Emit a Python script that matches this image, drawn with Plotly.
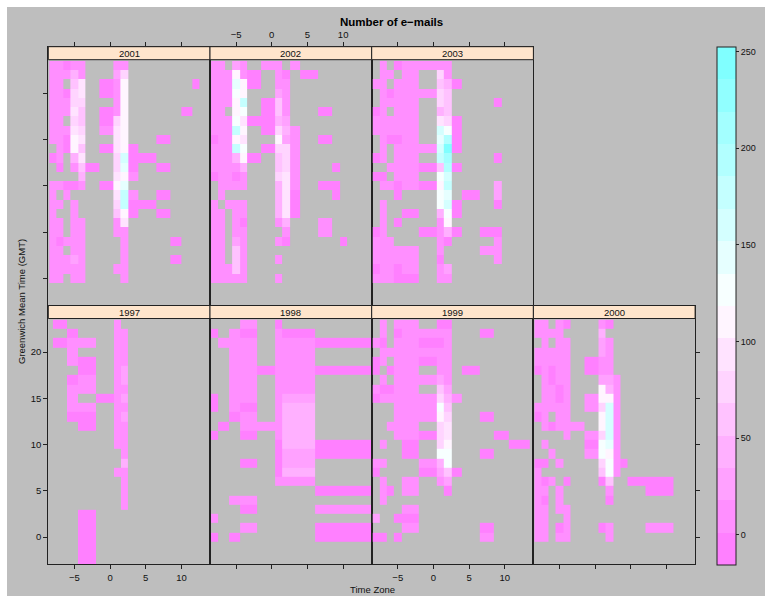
import colorsys
import math
import plotly.graph_objects as go

# ---------------- data ----------------
YEARS = ["1997", "1998", "1999", "2000", "2001", "2002", "2003"]

# band code -> estimated number of e-mails ('.' = no e-mail)
LEVEL_COUNT = {"1": 1, "2": 8, "3": 25, "4": 42, "5": 60, "6": 76, "7": 93,
               "8": 110, "9": 127, "a": 143, "b": 160, "c": 177, "d": 194,
               "e": 210, "f": 227, "g": 237}

HOURS_FULL = list(range(23, -1, -1))

X_1997 = [-7, -5, -4, 0, 1, 2]
Y_1997 = list(range(23, 5, -1)) + [0]
Z_1997 = ["1...2.", ".1..22", "122.22", ".2..22", ".21.22", "..1.23",
          ".12.23", ".22.22", ".2.123", ".22.22", ".11.23", "..1.22",
          "....22", "....22", ".....2", ".....4", "....22", ".....2",
          "..1..."]

X_1998 = [-8, -7, -5, -4, 0, 1, 2, 10]
Z_1998 = ["...2.1..", "1.21.21.", ".222.221", "..22.22.", "..22.22.",
          "..221221", "..22.22.", "..22.22.", "1.22.23.", "1.21.24.",
          "..12.24.", ".1.2224.", "1..1.24.", ".....141", ".....131",
          "...1.13.", ".....14.", ".....22.", ".......1", "..22....",
          "...1...2", "2.......", "...2...1", "1.1....1"]

X_1999 = [-8, -7, -6, -5, -4, 0, 1, 2, 3, 5, 8, 9, 12]
Z_1999 = [".2.22.11.....", ".2.12222..1..", "21.22112.....", ".2222222.....",
          "12.22122.....", "1.122.22.1...", ".2.22232.....", "21122.53.....",
          "122222642....", "...22295.....", "...22286..1..", "..222.67.....",
          "...22167...1.", ".2..1.68....1", "....1.99..1..", "22...249.....",
          "1....1351....", ".2..2.23.....", ".21.2..1.....", ".2...........",
          "....2........", "3..11........", "....2.....1..", "11.1......2.."]

X_2000 = [-8, -7, -6, -5, -4, -3, 0, 1, 2, 3, 4, 5, 9]
Z_2000 = ["22.21..21....", "2222...4.....", ".2.22..32....", "22222..32....",
          "22222.122....", "12122.122....", ".2122..332...", ".2212..842...",
          ".2212.2882...", "22222.26b2...", "12.22..8b2...", ".21222.8b2...",
          "....2.26b2...", ".2....19a2...", "..2...2982...", "11.2...6921..",
          "2......592...", "212.1..15..11", "22.2....2...1", "21.2....1....",
          "22.22........", "22..2........", "22.12..12...2", "22.22...2...."]

X_2001 = [-8, -7, -6, -5, -4, -3, 0, 1, 2, 3, 5, 8, 9, 11, 12]
Z_2001 = ["22122..22......", "22242..36......", "22.57.128.....1", "22167.128......",
          "22266..28......", "22275.128....1.", "22.65.168......", "22276.278......",
          "22187..78..1...", ".2185.1781.....", "12.47..6b11....", ".1.251.6a1.1...",
          "....4..782.....", "22112.18a......", "2.2....7c2.1...", "22.2...6c11....",
          "2..2...581.1...", "22.22..27......", "22.22..22......", "21222...2...1..",
          "22.22...2......", "22232...2...1..", "22222..22......", "22.22...2......"]

X_2002 = [-8, -7, -6, -5, -4, -3, 0, 1, 2, 3, 5, 8, 9, 10]
Z_2002 = ["22.32.22.2....", "222821.21.1...", "222a81.22.....", "22298..32.....",
          "2228c.152.....", "22.89.152..1..", "222971143.....", "222c8.1642....",
          "12287..832.1..", "222c9.1662....", "222481.562....", "22224..562..1.",
          "12212..672....", ".2222..472.11.", ".2.....471..1.", "2.222..471....",
          "22.22..471....", "22.21..24..2..", "22.22...2..2..", "22.32..21....1",
          "22.52.........", "22.52..2......", "22252.........", "22222..2......"]

X_2003 = [-8, -7, -6, -5, -4, 0, 1, 2, 3, 5, 8, 9, 10]
Z_2003 = [".2.12222.....", ".22.2.62.....", "22.22.541....", ".2122265.....",
          ".2222.65...1.", "12.22.45.....", "22222.761....", "22222.b91....",
          ".2112.ad1....", ".2.222bg1....", "12.22.ce...1.", "..22215d1....",
          "11.22.9b.....", ".221218c...3.", "...1..9a.1.3.", ".2....9b1..1.",
          ".2..1.491....", ".2.1..28.....", "12...1241.11.", "222...21...2.",
          "22222.2...22.", "22222.1....2.", "12212.23.....", "22211.22....."]

PANELS = [
    ("1997", X_1997, Y_1997, Z_1997),
    ("1998", X_1998, HOURS_FULL, Z_1998),
    ("1999", X_1999, HOURS_FULL, Z_1999),
    ("2000", X_2000, HOURS_FULL, Z_2000),
    ("2001", X_2001, HOURS_FULL, Z_2001),
    ("2002", X_2002, HOURS_FULL, Z_2002),
    ("2003", X_2003, HOURS_FULL, Z_2003),
]

X_TICKS = [-5, 0, 5, 10]
Y_TICKS = [0, 5, 10, 15, 20]
CBAR_TICKS = [0, 50, 100, 150, 200, 250]

# ---------------- colour scale (lattice default regions) ----------------
Z_MIN, Z_MAX, N_REGIONS = -15.5, 252.5, 16


def cm_colors(n):
    even = n % 2 == 0
    k = n // 2
    l1 = k + 1 - int(even)
    l2 = n - k + int(even)
    def seq(a, b, m):
        return [a + (b - a) * i / (m - 1) for i in range(m)] if m > 1 else [a]
    s1 = seq(0.5, 0.5 / k if even else 0.0, l1)
    s2 = seq(0.0, 0.5, l2)[1:]
    out = []
    for h, ss in ((6 / 12, s1), (10 / 12, s2)):
        for s in ss:
            r, g, b = colorsys.hsv_to_rgb(h, s, 1.0)
            out.append("rgb(%d,%d,%d)" % (round(r * 255), round(g * 255), round(b * 255)))
    return out


regions = list(reversed(cm_colors(100)))
band_cols = [regions[int(math.floor(1 + i * 99 / (N_REGIONS - 1))) - 1] for i in range(N_REGIONS)]
colorscale = []
for i, c in enumerate(band_cols):
    colorscale.append([i / N_REGIONS, c])
    colorscale.append([(i + 1) / N_REGIONS, c])

# ---------------- geometry ----------------
W, H = 765, 596
PANEL_LEFT, PANEL_W = 48.3, 161.7
ROW_TOP = 46.7
STRIP_H, PANEL_H = 13.0, 245.8
ROW_H = STRIP_H + PANEL_H
X_RANGE = [-8.65, 14.0]
Y_LOW, Y_HIGH_DATA = -2.95, 23.64
Y_RANGE = [Y_LOW, Y_HIGH_DATA + STRIP_H * (Y_HIGH_DATA - Y_LOW) / PANEL_H]
STRIP_FRAC = PANEL_H / ROW_H
FONT = "Liberation Sans, Arial, Helvetica, sans-serif"
GRAY = "#BEBEBE"
LINE = "#222222"

fig = go.Figure()
layout_axes = {}
shapes = []
annotations = []

for p, (year, xs, ys, rows) in enumerate(PANELS):
    idx = p + 1
    sfx = "" if idx == 1 else str(idx)
    if p < 4:
        row, col = 1, p
    else:
        row, col = 0, p - 4
    x0 = (PANEL_LEFT + col * PANEL_W) / W
    x1 = (PANEL_LEFT + (col + 1) * PANEL_W) / W
    top_px = ROW_TOP + row * ROW_H
    y1 = 1 - top_px / H
    y0 = 1 - (top_px + ROW_H) / H

    z = [[LEVEL_COUNT[c] if c != "." else None for c in r] for r in rows]
    ys_asc = list(reversed(ys))
    z_asc = list(reversed(z))
    fig.add_trace(go.Heatmap(x=xs, y=ys_asc, z=z_asc, coloraxis="coloraxis",
                             xaxis="x" + sfx, yaxis="y" + sfx, hoverongaps=False))

    bottom_row = row == 1
    x_labels = year in ("1997", "1999", "2002")
    layout_axes["xaxis" + sfx] = dict(
        domain=[x0, x1], range=X_RANGE, anchor="y" + sfx,
        side="bottom" if bottom_row else "top",
        tickvals=X_TICKS, ticks="outside", ticklen=4, tickcolor=LINE, tickwidth=1,
        showticklabels=x_labels, showline=True, mirror=True, linecolor=LINE,
        linewidth=1, showgrid=False, zeroline=False,
        tickfont=dict(family=FONT, size=9.5, color="#111111"), fixedrange=True)

    if year == "1997":
        yt = dict(side="left", ticks="outside", showticklabels=True)
    elif year == "2001":
        yt = dict(side="left", ticks="outside", showticklabels=False)
    elif year == "2000":
        yt = dict(side="right", ticks="outside", showticklabels=False)
    else:
        yt = dict(side="left", ticks="", showticklabels=False)
    layout_axes["yaxis" + sfx] = dict(
        domain=[y0, y1], range=Y_RANGE, anchor="x" + sfx,
        tickvals=Y_TICKS, ticklen=4, tickcolor=LINE, tickwidth=1,
        showline=True, mirror=True, linecolor=LINE, linewidth=1,
        showgrid=False, zeroline=False,
        tickfont=dict(family=FONT, size=9.5, color="#111111"), fixedrange=True, **yt)

    shapes.append(dict(type="rect", xref="x" + sfx + " domain", yref="y" + sfx + " domain",
                       x0=0, x1=1, y0=STRIP_FRAC, y1=1, fillcolor="#FFE5CC",
                       line=dict(color=LINE, width=1), layer="above"))
    annotations.append(dict(text=year, xref="x" + sfx + " domain", yref="y" + sfx + " domain",
                            x=0.5, y=(STRIP_FRAC + 1) / 2, showarrow=False,
                            xanchor="center", yanchor="middle",
                            font=dict(family=FONT, size=9.5, color="#111111")))

# white outer margins (top and left)
shapes.append(dict(type="rect", xref="paper", yref="paper", x0=0, x1=1, y0=1 - 7 / H, y1=1,
                   fillcolor="white", line=dict(width=0), layer="below"))
shapes.append(dict(type="rect", xref="paper", yref="paper", x0=0, x1=7 / W, y0=0, y1=1,
                   fillcolor="white", line=dict(width=0), layer="below"))

annotations.append(dict(text="<b>Number of e\u2212mails</b>", xref="paper", yref="paper",
                        x=392 / W, y=1 - 22 / H, showarrow=False, xanchor="center",
                        yanchor="middle", font=dict(family=FONT, size=11.5, color="black")))
annotations.append(dict(text="Time Zone", xref="paper", yref="paper",
                        x=372 / W, y=1 - 589 / H, showarrow=False, xanchor="center",
                        yanchor="middle", font=dict(family=FONT, size=9.5, color="#111111")))
annotations.append(dict(text="Greenwich Mean Time (GMT)", xref="paper", yref="paper",
                        x=21 / W, y=1 - 302 / H, showarrow=False, textangle=-90,
                        xanchor="center", yanchor="middle",
                        font=dict(family=FONT, size=9.5, color="#111111")))

fig.update_layout(
    width=W, height=H, margin=dict(l=0, r=0, t=0, b=0),
    paper_bgcolor=GRAY, plot_bgcolor=GRAY, showlegend=False,
    coloraxis=dict(
        colorscale=colorscale, cmin=Z_MIN, cmax=Z_MAX,
        colorbar=dict(x=716.7 / W, xanchor="left", xpad=0, y=1 - 46.7 / H, yanchor="top",
                      ypad=0, len=517.6, lenmode="pixels", thickness=19,
                      thicknessmode="pixels", outlinewidth=1, outlinecolor=LINE,
                      tickvals=CBAR_TICKS, ticks="outside", ticklen=3, tickcolor=LINE,
                      tickfont=dict(family=FONT, size=9, color="#111111"))),
    shapes=shapes, annotations=annotations, **layout_axes)

fig.write_html("out.html")
